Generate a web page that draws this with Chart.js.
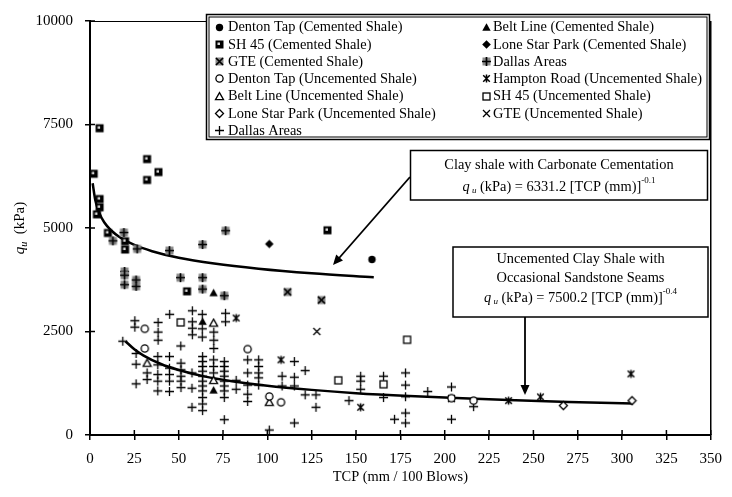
<!DOCTYPE html>
<html>
<head>
<meta charset="utf-8">
<script src="https://cdn.jsdelivr.net/npm/chart.js@4.4.1/dist/chart.umd.min.js"></script>
<style>
  html, body { margin: 0; padding: 0; background: #fff; }
</style>
</head>
<body>
<canvas id="tcpChart" width="732" height="497"></canvas>
<script>
const FONT = '"Liberation Serif", "Times New Roman", serif';

const xTickValues = [0, 25, 50, 75, 100, 125, 150, 175, 200, 225, 250, 275, 300, 325, 350];
const yTickValues = [0, 2500, 5000, 7500, 10000];

// cemented shale  [TCP (mm/100 blows), qu (kPa)]
const dentonTapCemented = [[159, 4240]];
const beltLineCemented = [[69.7, 3430], [63.5, 2740], [69.7, 1080]];
const sh45Cemented = [[2.1, 6310], [5.4, 7410], [32.2, 6665], [38.6, 6350], [32.2, 6160], [5.4, 5700], [5.4, 5500],
  [3.9, 5330], [10.1, 4880], [19.8, 4680], [19.8, 4480], [54.7, 3470], [133.9, 4945]];
const loneStarCemented = [[101.1, 4615]];
const gteCemented = [[111.4, 3455], [130.5, 3260]];
const dallasCemented = [[19.1, 4890], [12.9, 4690], [26.6, 4495], [44.8, 4455], [63.5, 4600], [76.5, 4935],
  [19.5, 3950], [19.5, 3860], [19.5, 3630], [26, 3745], [26, 3590], [51, 3800], [63.5, 3800], [63.5, 3525], [75.7, 3365]];

// uncemented shale
const dentonTapUncemented = [[30.9, 2565], [30.9, 2090], [88.9, 2075], [107.7, 790], [101.1, 930], [216.3, 830], [203.8, 890]];
const hamptonRoadUncemented = [[82.4, 2825], [107.7, 1815], [152.6, 670], [236, 830], [254, 920], [305, 1475]];
const beltLineUncemented = [[32.2, 1735], [69.7, 2705], [101.1, 790], [69.7, 1320]];
const sh45Uncemented = [[51.1, 2720], [140, 1320], [165.5, 1225], [178.8, 2300]];
const loneStarUncemented = [[266.9, 710], [305.6, 830]];
const gteUncemented = [[127.9, 2500], [203.8, 880]];
const dallasUncemented = [
  [18.5, 2265], [26, 1970], [26, 1710], [26, 1235], [32.2, 1500], [32.2, 1340],
  [38.2, 1895], [38.2, 1695], [38.2, 1460], [38.2, 1300], [38.2, 1065],
  [44.8, 1895], [44.8, 1615], [44.8, 1460], [44.8, 1300], [44.8, 1050],
  [51.2, 2150], [51.3, 1735], [51.3, 1575], [51.3, 1420], [51.3, 1300], [51.3, 1145],
  [57.5, 1500], [57.5, 1130], [57.5, 670],
  [63.5, 1895], [63.5, 1775], [63.5, 1655], [63.5, 1540], [63.5, 1420], [63.5, 1300], [63.5, 1185], [63.5, 1065],
  [63.5, 905], [63.5, 750], [63.5, 590],
  [69.7, 1815], [69.7, 1655], [69.7, 1500],
  [75.7, 1775], [75.7, 1655], [75.7, 1540], [75.7, 1420], [75.7, 1300], [75.7, 1185], [75.7, 1065], [75.7, 905], [75.7, 370],
  [25.3, 2760], [25.3, 2605], [38.4, 2720], [38.4, 2485], [38.4, 2290], [44.9, 2915],
  [57.7, 3000], [57.7, 2735], [57.7, 2580], [57.7, 2420], [63.3, 2915], [63.3, 2565], [63.3, 2365],
  [69.8, 2485], [69.8, 2290], [69.8, 2090], [76.4, 2940], [76.4, 2735],
  [82.4, 1320], [82.4, 1105], [88.9, 1815], [88.9, 1500], [88.9, 1205], [88.9, 985], [88.9, 810],
  [95.1, 1815], [95.1, 1655], [95.1, 1500], [95.1, 1380], [95.1, 1205], [101.1, 120],
  [108.3, 1420], [108.3, 1185], [115.2, 1775], [115.2, 1395], [115.2, 1185], [115.2, 290],
  [121.3, 1555], [121.3, 970], [127.4, 970], [127.4, 670], [146, 830],
  [152.6, 1420], [152.6, 1300], [152.6, 1105], [165.5, 1420], [165.5, 905],
  [177.9, 1500], [177.9, 1205], [177.9, 925], [177.9, 530], [177.9, 290], [171.7, 380],
  [190.4, 1050], [203.8, 1160], [203.8, 380], [216.3, 685]];

// fitted curves
const cementedFitX = [1.5, 3, 5, 8, 12, 17, 25, 35, 50, 70, 95, 125, 160];
const cementedFitY = [6080, 5670, 5390, 5140, 4940, 4770, 4590, 4440, 4280, 4140, 4015, 3905, 3810];
const uncementedFitX = [20, 25, 30, 40, 50, 65, 80, 100, 125, 150, 180, 210, 240, 270, 306];
const uncementedFitY = [2265, 2070, 1925, 1715, 1570, 1410, 1300, 1190, 1090, 1010, 940, 885, 840, 800, 760];

function marker(draw) {
  const c = document.createElement('canvas');
  c.width = 11; c.height = 11;
  const g = c.getContext('2d');
  g.strokeStyle = '#000';
  g.fillStyle = '#000';
  draw(g);
  return c;
}
function lines(g, segs, w) {
  g.lineWidth = w;
  g.beginPath();
  segs.forEach(s => { g.moveTo(s[0], s[1]); g.lineTo(s[2], s[3]); });
  g.stroke();
}
function poly(g, pts) {
  g.beginPath();
  g.moveTo(pts[0][0], pts[0][1]);
  pts.slice(1).forEach(p => g.lineTo(p[0], p[1]));
  g.closePath();
}

const markers = {
  filledCircle: marker(g => { g.beginPath(); g.arc(5.5, 5.5, 3.7, 0, Math.PI * 2); g.fill(); }),
  filledTriangle: marker(g => { poly(g, [[5.5, 1.3], [9.7, 8.7], [1.3, 8.7]]); g.fill(); }),
  shadedSquare: marker(g => { g.fillRect(1.5, 1.5, 8, 8); g.fillStyle = '#d8d8d8'; g.fillRect(3.5, 3.5, 2.5, 2.5); }),
  filledDiamond: marker(g => { poly(g, [[5.5, 1.2], [9.8, 5.5], [5.5, 9.8], [1.2, 5.5]]); g.fill(); }),
  greyX: marker(g => {
    g.fillStyle = '#8a8a8a'; g.fillRect(1.5, 1.5, 8, 8);
    lines(g, [[2, 2, 9, 9], [9, 2, 2, 9]], 1.7);
  }),
  greyPlus: marker(g => {
    g.fillStyle = '#8a8a8a'; g.fillRect(1.5, 1.5, 8, 8);
    lines(g, [[1, 5.5, 10, 5.5], [5.5, 1, 5.5, 10]], 1.7);
  }),
  openCircle: marker(g => { g.beginPath(); g.arc(5.5, 5.5, 3.6, 0, Math.PI * 2); g.fillStyle = '#fff'; g.fill(); g.lineWidth = 1.3; g.stroke(); }),
  star: marker(g => lines(g, [[2.2, 2.2, 8.8, 8.8], [8.8, 2.2, 2.2, 8.8], [5.5, 1.5, 5.5, 9.5]], 1.5)),
  openTriangle: marker(g => { poly(g, [[5.5, 1.6], [9.5, 8.7], [1.5, 8.7]]); g.fillStyle = '#fff'; g.fill(); g.lineWidth = 1.3; g.stroke(); }),
  openSquare: marker(g => { g.fillStyle = '#fff'; g.fillRect(2, 2, 7, 7); g.lineWidth = 1.3; g.strokeRect(2, 2, 7, 7); }),
  openDiamond: marker(g => { poly(g, [[5.5, 1.5], [9.5, 5.5], [5.5, 9.5], [1.5, 5.5]]); g.fillStyle = '#fff'; g.fill(); g.lineWidth = 1.3; g.stroke(); }),
  cross: marker(g => lines(g, [[2, 2, 9, 9], [9, 2, 2, 9]], 1.3)),
  plus: marker(g => lines(g, [[1, 5.5, 10, 5.5], [5.5, 1, 5.5, 10]], 1.3))
};

// legend reads row by row, two columns
const series = [
  ['Denton Tap (Cemented Shale)', dentonTapCemented, markers.filledCircle],
  ['Belt Line (Cemented Shale)', beltLineCemented, markers.filledTriangle],
  ['SH 45 (Cemented Shale)', sh45Cemented, markers.shadedSquare],
  ['Lone Star Park (Cemented Shale)', loneStarCemented, markers.filledDiamond],
  ['GTE (Cemented Shale)', gteCemented, markers.greyX],
  ['Dallas Areas', dallasCemented, markers.greyPlus],
  ['Denton Tap (Uncemented Shale)', dentonTapUncemented, markers.openCircle],
  ['Hampton Road (Uncemented Shale)', hamptonRoadUncemented, markers.star],
  ['Belt Line (Uncemented Shale)', beltLineUncemented, markers.openTriangle],
  ['SH 45 (Uncemented Shale)', sh45Uncemented, markers.openSquare],
  ['Lone Star Park (Uncemented Shale)', loneStarUncemented, markers.openDiamond],
  ['GTE (Uncemented Shale)', gteUncemented, markers.cross],
  ['Dallas Areas', dallasUncemented, markers.plus]
];

const toXY = arr => arr.map(p => ({ x: p[0], y: p[1] }));
const zipXY = (xs, ys) => xs.map((x, i) => ({ x: x, y: ys[i] }));

const datasets = series.map(s => ({
  label: s[0],
  data: toXY(s[1]),
  pointStyle: s[2],
  pointRadius: 5,
  showLine: false
}));
[zipXY(cementedFitX, cementedFitY), zipXY(uncementedFitX, uncementedFitY)].forEach(d => {
  datasets.push({
    label: '',
    isTrend: true,
    data: d,
    showLine: true,
    pointRadius: 0,
    borderColor: '#000',
    borderWidth: 2.5,
    cubicInterpolationMode: 'monotone',
    fill: false
  });
});

function richText(ctx, parts, cx, y) {
  let w = 0;
  parts.forEach(p => { ctx.font = p.font; p.w = ctx.measureText(p.t).width; w += p.w; });
  let x = cx - w / 2;
  ctx.textAlign = 'left';
  ctx.textBaseline = 'alphabetic';
  parts.forEach(p => { ctx.font = p.font; ctx.fillText(p.t, x, y + (p.dy || 0)); x += p.w; });
}

function arrow(ctx, x1, y1, x2, y2) {
  const a = Math.atan2(y2 - y1, x2 - x1);
  ctx.lineWidth = 1.8;
  ctx.beginPath();
  ctx.moveTo(x1, y1);
  ctx.lineTo(x2 - 6 * Math.cos(a), y2 - 6 * Math.sin(a));
  ctx.stroke();
  ctx.beginPath();
  ctx.moveTo(x2, y2);
  ctx.lineTo(x2 - 10 * Math.cos(a) + 4.5 * Math.sin(a), y2 - 10 * Math.sin(a) - 4.5 * Math.cos(a));
  ctx.lineTo(x2 - 10 * Math.cos(a) - 4.5 * Math.sin(a), y2 - 10 * Math.sin(a) + 4.5 * Math.cos(a));
  ctx.closePath();
  ctx.fill();
}

const decorPlugin = {
  id: 'decor',
  afterDraw(chart) {
    const ctx = chart.ctx;
    const { left, right, top, bottom } = chart.chartArea;
    const xs = chart.scales.x, ys = chart.scales.y;
    ctx.save();
    ctx.strokeStyle = '#000';
    ctx.fillStyle = '#000';

    // frame on top and right
    ctx.lineWidth = 1;
    ctx.beginPath();
    ctx.moveTo(left, top + 0.5);
    ctx.lineTo(right, top + 0.5);
    ctx.stroke();
    ctx.lineWidth = 1.5;
    ctx.beginPath();
    ctx.moveTo(right, top);
    ctx.lineTo(right, bottom);
    ctx.stroke();

    // inner half of the crossing ticks
    ctx.lineWidth = 1.5;
    ctx.beginPath();
    xTickValues.forEach(v => { const px = xs.getPixelForValue(v); ctx.moveTo(px, bottom); ctx.lineTo(px, bottom - 5); });
    yTickValues.forEach(v => { const py = ys.getPixelForValue(v); ctx.moveTo(left, py); ctx.lineTo(left + 5, py); });
    ctx.stroke();

    // legend
    const lx = 206.5, ly = 14.5, lw = 503, lh = 125;
    ctx.fillStyle = '#fff';
    ctx.fillRect(lx, ly, lw, lh);
    ctx.lineWidth = 1.5;
    ctx.strokeRect(lx, ly, lw, lh);
    ctx.lineWidth = 1;
    ctx.strokeRect(lx + 2.5, ly + 2.5, lw - 5, lh - 5);
    ctx.fillStyle = '#000';
    ctx.font = '14.4px ' + FONT;
    ctx.textBaseline = 'middle';
    ctx.textAlign = 'left';
    const items = chart.data.datasets.filter(d => !d.isTrend);
    items.forEach((d, i) => {
      const col = i % 2, row = Math.floor(i / 2);
      const mx = col === 0 ? 219 : 486;
      const tx = col === 0 ? 228 : 493;
      const my = 27 + row * 17.3;
      ctx.drawImage(d.pointStyle, Math.round(mx - 5.5), Math.round(my - 5.5));
      ctx.fillText(d.label, tx, my + 0.5);
    });

    // annotation 1
    ctx.fillStyle = '#fff';
    ctx.fillRect(410.5, 150.5, 297, 49.5);
    ctx.lineWidth = 1.5;
    ctx.strokeRect(410.5, 150.5, 297, 49.5);
    ctx.fillStyle = '#000';
    richText(ctx, [{ t: 'Clay shale with Carbonate Cementation', font: '14.4px ' + FONT }], 559, 169);
    richText(ctx, [
      { t: 'q', font: 'italic 14.4px ' + FONT },
      { t: ' u', font: 'italic 9px ' + FONT, dy: 2 },
      { t: ' (kPa) = 6331.2 [TCP (mm)]', font: '14.4px ' + FONT },
      { t: '-0.1', font: '9px ' + FONT, dy: -8 }
    ], 559, 191);
    arrow(ctx, 410, 177, 333, 265);

    // annotation 2
    ctx.fillStyle = '#fff';
    ctx.fillRect(453, 247, 255, 70);
    ctx.lineWidth = 1.5;
    ctx.strokeRect(453, 247, 255, 70);
    ctx.fillStyle = '#000';
    richText(ctx, [{ t: 'Uncemented Clay Shale with', font: '14.4px ' + FONT }], 580.5, 263);
    richText(ctx, [{ t: 'Occasional Sandstone Seams', font: '14.4px ' + FONT }], 580.5, 282);
    richText(ctx, [
      { t: 'q', font: 'italic 14.4px ' + FONT },
      { t: ' u', font: 'italic 9px ' + FONT, dy: 2 },
      { t: ' (kPa) = 7500.2 [TCP (mm)]', font: '14.4px ' + FONT },
      { t: '-0.4', font: '9px ' + FONT, dy: -8 }
    ], 580.5, 302);
    arrow(ctx, 525, 317, 525, 395);

    // axis titles
    richText(ctx, [{ t: 'TCP (mm / 100 Blows)', font: '14.4px ' + FONT }], (left + right) / 2, 481);
    ctx.save();
    ctx.translate(24, (top + bottom) / 2);
    ctx.rotate(-Math.PI / 2);
    richText(ctx, [
      { t: 'q', font: 'italic 15px ' + FONT },
      { t: 'u', font: 'italic 10px ' + FONT, dy: 3 },
      { t: '  (kPa)', font: '15px ' + FONT }
    ], 0, 0);
    ctx.restore();
    ctx.restore();
  }
};

const tickFont = { family: FONT, size: 15 };

new Chart(document.getElementById('tcpChart'), {
  type: 'scatter',
  data: { datasets: datasets },
  options: {
    responsive: false,
    animation: false,
    devicePixelRatio: 1,
    layout: { padding: { top: 12, right: 19, left: 0, bottom: 0 } },
    plugins: { legend: { display: false }, tooltip: { enabled: false } },
    scales: {
      x: {
        type: 'linear',
        min: 0,
        max: 350,
        afterBuildTicks: s => { s.ticks = xTickValues.map(v => ({ value: v })); },
        afterFit: s => { s.height = 62; },
        ticks: { color: '#000', font: tickFont, padding: 10, maxRotation: 0, autoSkip: false, callback: v => String(v) },
        grid: { drawOnChartArea: false, tickLength: 5, color: '#000', lineWidth: 1.5 },
        border: { color: '#000', width: 2 }
      },
      y: {
        type: 'linear',
        min: 0,
        max: 10000,
        afterBuildTicks: s => { s.ticks = yTickValues.map(v => ({ value: v })); },
        afterFit: s => { s.width = 90; },
        ticks: { color: '#000', font: tickFont, padding: 12, autoSkip: false, callback: v => String(v) },
        grid: { drawOnChartArea: false, tickLength: 5, color: '#000', lineWidth: 1.5 },
        border: { color: '#000', width: 2 }
      }
    }
  },
  plugins: [decorPlugin]
});
</script>
</body>
</html>
